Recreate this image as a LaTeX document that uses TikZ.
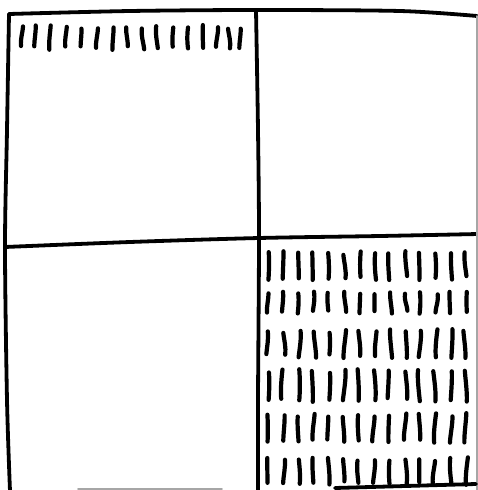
\documentclass[tikz,border=0pt]{standalone}
\usetikzlibrary{calc}

\begin{document}
\begin{tikzpicture}[x=1pt, y=-1pt,
  pen/.style={line width=3.8pt, line cap=round, line join=round, draw=black},
  faint/.style={line width=1.6pt, line cap=round, draw=black!35},
  tick/.style={line width=4.2pt, line cap=round, draw=black}]
\useasboundingbox (0,0) rectangle (478,490);
\pgfmathsetseed{17}

% ---------------- frame and cross
\draw[pen] plot[smooth] coordinates {(9,14) (130,11) (257,10) (400,11) (477,16)};
\draw[pen] plot[smooth] coordinates {(9,14) (7,130) (5,247) (7,400) (10,491)};
\draw[pen] plot[smooth] coordinates {(256,10) (258,130) (259,238) (258,400) (258,491)};
\draw[pen] plot[smooth] coordinates {(5,247) (130,242) (259,238) (380,236) (478,234)};
\draw[faint] (477,16) -- (477,490);
\draw[faint] (78,489) -- (222,489);
\draw[pen] (335,488) -- (476,484);

% ---------------- top left cell: one row of ticks
\foreach \x in {22,35,50,66,81,97,113,127,143,157,173,188,203,217,229,240} {
  \pgfmathsetmacro{\a}{rand*1.2}
  \pgfmathsetmacro{\c}{rand*1.0}
  \pgfmathsetmacro{\t}{27+rand*2}
  \pgfmathsetmacro{\b}{48+rand*2}
  \draw[tick] (\x+\a,\t) .. controls (\x+\a+\c,\t+8) and (\x-\a+\c,\b-8) .. (\x-\a,\b);
}

% ---------------- bottom right cell: six rows of ticks
\foreach \top/\bot in {253/278, 293/312, 331/356, 371/400, 415/441, 459/483} {
  \foreach \i in {0,...,13} {
    \pgfmathsetmacro{\x}{268+15.2*\i+rand*1.5}
    \pgfmathsetmacro{\a}{rand*1.3}
    \pgfmathsetmacro{\c}{rand*1.0}
    \pgfmathsetmacro{\t}{\top+rand*2}
    \pgfmathsetmacro{\b}{\bot+rand*2}
    \draw[tick] (\x+\a,\t) .. controls (\x+\a+\c,\t+8) and (\x-\a+\c,\b-8) .. (\x-\a,\b);
  }
}
\end{tikzpicture}
\end{document}
